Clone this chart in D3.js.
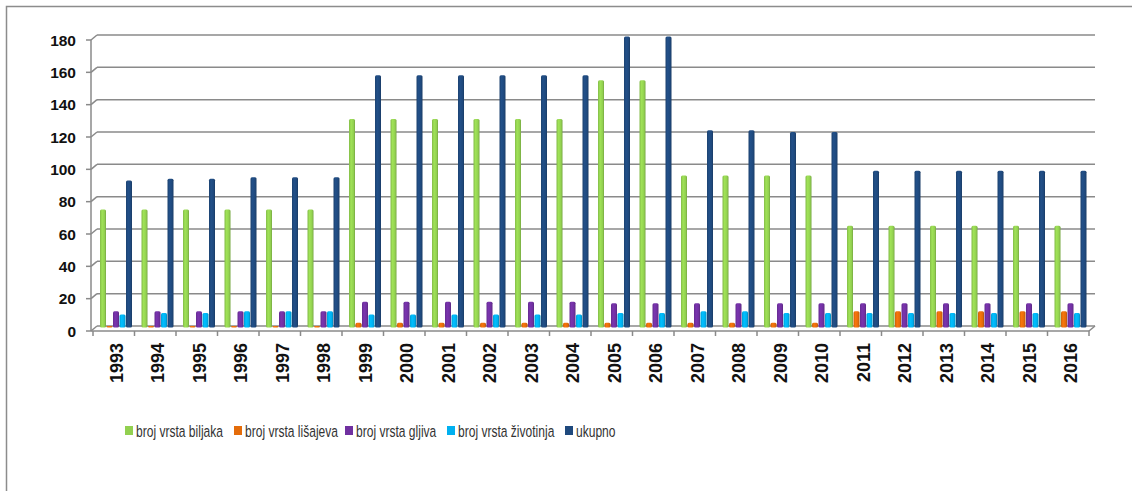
<!DOCTYPE html>
<html lang="hr">
<head>
  <meta charset="UTF-8">
  <title>Broj vrsta</title>
  <script src="https://d3js.org/d3.v7.min.js"></script>
  <style>
    body { margin: 0; background: #fff; }
    svg { display: block; }
  </style>
</head>
<body>
  <script>
    // podaci procitani s grafikona
    const godine = ["1993","1994","1995","1996","1997","1998","1999","2000","2001","2002","2003","2004",
                    "2005","2006","2007","2008","2009","2010","2011","2012","2013","2014","2015","2016"];
    const biljke   = [73,73,73,73,73,73,129,129,129,129,129,129,153,153,94,94,94,94,63,63,63,63,63,63];
    const lisajevi = [1,1,1,1,1,1,3,3,3,3,3,3,3,3,3,3,3,3,10,10,10,10,10,10];
    const gljive   = [10,10,10,10,10,10,16,16,16,16,16,16,15,15,15,15,15,15,15,15,15,15,15,15];
    const zivotinje= [8,9,9,10,10,10,8,8,8,8,8,8,9,9,10,10,9,9,9,9,9,9,9,9];
    const ukupno   = [91,92,92,93,93,93,156,156,156,156,156,156,180,180,122,122,121,121,97,97,97,97,97,97];
    const yTicks = [0,20,40,60,80,100,120,140,160,180];

    const serije = [
      { naziv: "broj vrsta biljaka", vrijednosti: biljke, boja: "#92D050" },
      { naziv: "broj vrsta lišajeva", vrijednosti: lisajevi, boja: "#E46C0A" },
      { naziv: "broj vrsta gljiva", vrijednosti: gljive, boja: "#7030A0" },
      { naziv: "broj vrsta životinja", vrijednosti: zivotinje, boja: "#00B0F0" },
      { naziv: "ukupno", vrijednosti: ukupno, boja: "#1F497D" }
    ];

    const width = 1132, height = 491;
    const svg = d3.select("body").append("svg")
      .attr("width", width).attr("height", height);

    // okvir
    svg.append("rect")
      .attr("x", 6.5).attr("y", 6.5).attr("width", 1140).attr("height", 500)
      .attr("fill", "none").attr("stroke", "#8c8c8c").attr("stroke-width", 1.5);

    // 3D pomak zida
    const dx = 6, dy = -5;
    const x = d3.scaleBand().domain(godine).range([93, 1089]).padding(0);
    const yBack = d3.scaleLinear().domain([0, 180]).range([326, 35]);
    const yBar = d3.scaleLinear().domain([0, 180]).range([327.5, 36.5]);

    const grid = svg.append("g");
    yTicks.forEach(t => {
      const yb = yBack(t);
      grid.append("line").attr("x1", 91 + dx).attr("x2", 1095).attr("y1", yb).attr("y2", yb)
        .attr("stroke", "#8a8a8a").attr("stroke-width", 1.5);
      grid.append("line").attr("x1", 91).attr("x2", 91 + dx).attr("y1", yb - dy).attr("y2", yb)
        .attr("stroke", "#8a8a8a").attr("stroke-width", 1.5);
      grid.append("line").attr("x1", 86).attr("x2", 91).attr("y1", yb - dy).attr("y2", yb - dy)
        .attr("stroke", "#8a8a8a").attr("stroke-width", 1.5);
    });
    // lijevi rub i pod
    grid.append("line").attr("x1", 91).attr("x2", 91)
      .attr("y1", yBack(180) - dy).attr("y2", yBack(0) - dy)
      .attr("stroke", "#8a8a8a").attr("stroke-width", 1.5);
    grid.append("line").attr("x1", 91).attr("x2", 1089)
      .attr("y1", yBack(0) - dy).attr("y2", yBack(0) - dy)
      .attr("stroke", "#8a8a8a").attr("stroke-width", 1.5);
    grid.append("line").attr("x1", 1089).attr("x2", 1095)
      .attr("y1", yBack(0) - dy).attr("y2", yBack(0))
      .attr("stroke", "#8a8a8a").attr("stroke-width", 1.5);
    godine.concat(["kraj"]).forEach((g, i) => {
      const xx = 93 + i * x.bandwidth();
      grid.append("line").attr("x1", xx).attr("x2", xx)
        .attr("y1", yBack(0) - dy).attr("y2", yBack(0) - dy + 5)
        .attr("stroke", "#8a8a8a").attr("stroke-width", 1.5);
    });

    // y oznake
    svg.append("g").selectAll("text").data(yTicks).join("text")
      .attr("x", 76).attr("y", d => yBack(d) - dy)
      .attr("dy", "0.36em")
      .attr("text-anchor", "end")
      .attr("font-family", "'Liberation Sans', Arial, sans-serif")
      .attr("font-weight", "bold").attr("font-size", 15.5)
      .attr("fill", "#111")
      .text(d => d);

    // x oznake
    svg.append("g").selectAll("text").data(godine).join("text")
      .attr("transform", d => `translate(${x(d) + x.bandwidth() / 2 + 2.5},343) rotate(-90)`)
      .attr("dy", "0.36em")
      .attr("text-anchor", "end")
      .attr("font-family", "'Liberation Sans', Arial, sans-serif")
      .attr("font-weight", "bold").attr("font-size", 18)
      .attr("fill", "#111")
      .text(d => d);

    // gradijenti za stupce
    const defs = svg.append("defs");
    serije.forEach((s, i) => {
      const c = d3.color(s.boja);
      const gr = defs.append("linearGradient").attr("id", "g" + i)
        .attr("x1", "0%").attr("x2", "100%").attr("y1", "0%").attr("y2", "0%");
      gr.append("stop").attr("offset", "0%").attr("stop-color", c.darker(0.3));
      gr.append("stop").attr("offset", "35%").attr("stop-color", c.brighter(0.25));
      gr.append("stop").attr("offset", "75%").attr("stop-color", c);
      gr.append("stop").attr("offset", "100%").attr("stop-color", c.darker(0.6));
    });

    const barW = 6, step = 6.5, off = 7;
    serije.forEach((s, i) => {
      svg.append("g").selectAll("rect").data(godine).join("rect")
        .attr("x", d => x(d) + off + i * step)
        .attr("y", (d, j) => yBar(s.vrijednosti[j]))
        .attr("width", barW)
        .attr("height", (d, j) => yBar(0) - yBar(s.vrijednosti[j]))
        .attr("rx", 1.5)
        .attr("fill", `url(#g${i})`);
    });

    // legenda (uzak font kao Calibri -> suzimo tekst vodoravno)
    const legX = [125, 234, 345, 447, 565];
    const leg = svg.append("g");
    serije.forEach((s, i) => {
      leg.append("rect").attr("x", legX[i]).attr("y", 426).attr("width", 8).attr("height", 9)
        .attr("fill", s.boja);
      leg.append("g").attr("transform", `translate(${legX[i] + 11},431) scale(0.73,1)`)
        .append("text").attr("dy", "0.35em")
        .attr("font-family", "'Liberation Sans', Arial, sans-serif")
        .attr("font-size", 16.5).attr("fill", "#333")
        .text(s.naziv);
    });
  </script>
</body>
</html>
